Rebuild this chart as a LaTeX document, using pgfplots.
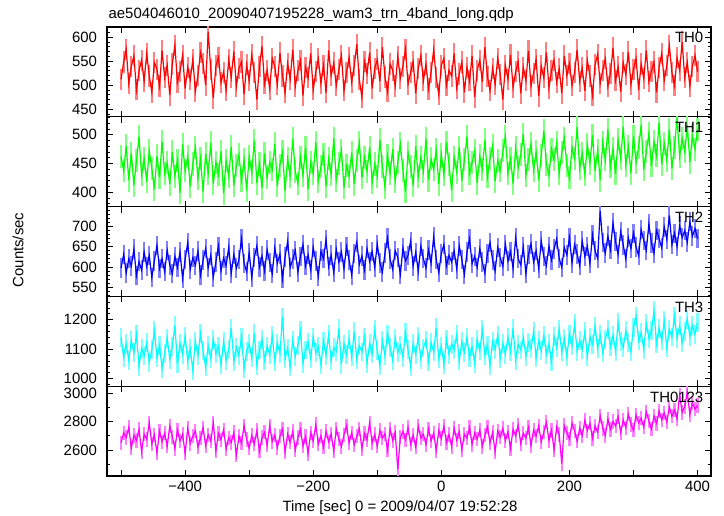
\documentclass[border=0pt]{standalone}
\usepackage{fontspec}
\setmainfont{Liberation Sans}
\usepackage{pgfplots}
\usepackage{pgfplotstable}
\pgfplotsset{compat=1.18}

\definecolor{qred}{rgb}{1,0,0}
\definecolor{qgreen}{rgb}{0,1,0}
\definecolor{qblue}{rgb}{0,0,1}
\definecolor{qcyan}{rgb}{0,1,1}
\definecolor{qmagenta}{rgb}{1,0,1}

\pgfplotstableread{
t a b c d e
-500 512 462 597 1140 2652
-496 548 437 631 1072 2721
-492 575 481 585 1118 2688
-488 503 421 620 1061 2760
-484 539 468 602 1129 2615
-480 561 412 644 1088 2703
-476 490 455 579 1150 2668
-472 530 497 613 1042 2745
-468 552 430 592 1103 2590
-464 508 459 637 1077 2712
-460 566 418 601 1121 2674
-456 519 472 628 1055 2790
-452 485 441 574 1098 2641
-448 547 405 615 1163 2706
-444 533 463 653 1070 2580
-440 498 426 596 1112 2733
-436 572 488 620 1034 2659
-432 515 432 588 1085 2718
-428 541 451 641 1137 2627
-424 479 414 605 1066 2769
-420 544 470 583 1109 2693
-416 583 428 626 1180 2612
-412 506 455 599 1051 2740
-408 528 399 637 1120 2664
-404 562 483 571 1083 2711
-400 493 437 618 1143 2578
-396 537 462 660 1060 2752
-392 511 410 594 1101 2647
-388 554 449 623 1027 2699
-384 487 478 604 1126 2734
-380 520 423 639 1078 2620
-376 568 458 580 1153 2684
-372 545 401 617 1094 2757
-368 500 467 645 1039 2631
-364 611 433 598 1112 2708
-360 532 486 629 1068 2662
-356 473 415 575 1134 2789
-352 540 452 612 1085 2595
-348 558 430 651 1110 2716
-344 505 471 590 1047 2672
-340 527 398 622 1125 2741
-336 489 455 603 1062 2609
-332 553 427 648 1099 2687
-328 516 479 584 1171 2653
-324 570 412 631 1058 2724
-320 497 446 597 1106 2566
-316 535 465 618 1079 2698
-312 548 421 669 1140 2649
-308 481 457 609 1033 2770
-304 542 403 588 1092 2675
-300 509 462 635 1118 2615
-296 563 434 574 1071 2703
-292 526 490 623 1154 2642
-288 470 416 652 1044 2738
-284 539 449 600 1097 2593
-280 581 407 627 1133 2689
-276 503 468 590 1062 2725
-272 531 425 642 1110 2634
-268 492 452 611 1081 2771
-264 556 439 583 1145 2660
-260 538 484 647 1058 2706
-256 501 411 609 1120 2619
-252 567 447 632 1086 2697
-248 519 470 571 1209 2748
-244 484 402 624 1067 2586
-240 545 458 663 1104 2712
-236 512 428 598 1039 2655
-232 574 493 619 1131 2730
-228 497 436 641 1075 2601
-224 530 415 587 1113 2688
-220 551 461 626 1163 2744
-216 478 429 655 1052 2628
-212 537 477 603 1097 2695
-208 515 405 630 1124 2577
-204 566 452 592 1069 2721
-200 490 433 648 1140 2664
-196 528 487 614 1088 2779
-192 555 419 577 1110 2643
-188 503 444 639 1046 2701
-184 541 466 620 1127 2620
-180 484 410 668 1079 2733
-176 572 458 601 1149 2659
-172 520 431 629 1061 2712
-168 546 494 586 1105 2594
-164 499 421 644 1092 2747
-160 533 450 612 1170 2676
-156 562 473 637 1048 2625
-152 488 408 595 1117 2708
-148 527 446 650 1081 2769
-144 557 428 617 1133 2651
-140 506 469 580 1074 2722
-136 540 414 633 1159 2637
-132 585 455 661 1063 2698
-128 511 486 606 1112 2749
-124 475 425 627 1090 2610
-120 549 460 592 1141 2716
-116 524 436 645 1052 2672
-112 568 478 613 1119 2791
-108 493 417 638 1084 2648
-104 535 449 599 1166 2709
-100 553 427 656 1095 2627
-96 508 491 610 1044 2738
-92 579 444 587 1128 2684
-88 517 409 634 1077 2715
-84 486 463 671 1150 2602
-80 544 432 619 1106 2749
-76 531 475 594 1062 2667
-72 498 419 640 1137 2724
-68 560 452 623 1089 2465
-64 514 484 581 1113 2690
-60 539 438 647 1071 2731
-56 575 401 615 1155 2673
-52 502 469 628 1098 2758
-48 526 445 663 1040 2642
-44 549 412 602 1119 2705
-40 483 480 636 1083 2620
-36 535 427 589 1142 2767
-32 562 461 651 1066 2685
-28 509 436 620 1104 2711
-24 544 493 597 1131 2638
-20 492 421 642 1059 2749
-16 527 458 609 1122 2664
-12 573 439 674 1091 2720
-8 516 474 618 1173 2597
-4 480 414 586 1068 2737
0 541 466 633 1110 2681
4 556 430 655 1047 2768
8 500 487 603 1134 2653
12 531 448 629 1082 2709
16 519 403 612 1117 2626
20 566 461 640 1098 2754
24 494 435 595 1151 2671
28 523 478 652 1060 2730
32 548 420 618 1125 2604
36 485 456 581 1089 2712
40 537 497 637 1140 2683
44 509 432 669 1071 2758
48 561 451 608 1109 2640
52 475 472 626 1052 2719
56 530 416 599 1132 2676
60 552 463 645 1094 2741
64 507 440 612 1166 2625
68 579 491 584 1079 2704
72 518 427 633 1113 2762
76 488 459 660 1045 2650
80 535 481 617 1127 2723
84 501 419 590 1100 2589
88 556 455 648 1148 2735
92 522 437 623 1068 2691
96 470 472 601 1119 2752
100 541 496 656 1083 2667
104 512 432 615 1141 2729
108 563 458 638 1092 2612
112 495 415 596 1171 2746
116 528 477 672 1062 2700
120 549 443 620 1116 2775
124 483 465 605 1097 2644
128 537 501 649 1138 2719
132 509 429 583 1075 2683
136 571 456 631 1123 2758
140 498 484 657 1101 2632
144 525 438 612 1160 2741
148 554 470 640 1070 2697
152 477 421 596 1129 2770
156 540 463 664 1094 2658
160 515 507 625 1147 2726
164 568 448 603 1083 2795
168 494 429 651 1118 2667
172 530 475 617 1059 2738
176 552 457 644 1142 2601
180 506 486 669 1105 2763
184 534 432 621 1167 2710
188 483 469 599 1090 2505
192 561 494 648 1136 2772
196 520 446 629 1074 2721
200 545 425 672 1151 2680
204 499 478 610 1112 2789
208 527 459 655 1186 2735
212 573 513 632 1093 2662
216 508 441 603 1128 2754
220 536 468 664 1099 2701
224 488 430 626 1160 2808
228 551 482 651 1075 2736
232 519 450 608 1141 2789
236 479 499 679 1117 2682
240 542 437 640 1178 2770
244 564 473 621 1102 2725
248 503 421 738 1149 2841
252 531 487 660 1087 2752
256 555 456 634 1133 2703
260 497 509 676 1168 2817
264 525 444 643 1108 2744
268 578 476 708 1146 2800
272 510 432 662 1093 2768
276 538 491 631 1189 2836
280 486 458 687 1127 2722
284 547 514 654 1106 2811
288 522 447 620 1162 2757
292 569 480 672 1121 2852
296 501 433 645 1091 2780
300 533 497 683 1174 2739
304 556 452 649 1211 2847
308 490 478 628 1128 2791
312 544 517 692 1155 2823
316 514 439 665 1100 2760
320 572 471 641 1186 2869
324 507 502 706 1137 2802
328 529 446 659 1162 2748
332 548 488 634 1230 2838
336 485 463 690 1118 2787
340 537 521 670 1171 2874
344 566 448 647 1129 2812
348 510 485 699 1196 2860
352 541 455 668 1104 2795
356 582 509 727 1167 2901
360 526 441 655 1141 2837
364 499 478 683 1212 2881
368 557 530 650 1137 2819
372 531 462 702 1179 2985
376 590 494 672 1122 2864
380 515 470 690 1160 2905
384 547 516 661 1201 3005
388 498 452 712 1143 2849
392 539 498 676 1180 2931
396 562 475 695 1151 2886
400 528 509 670 1189 2912
}\datatable

\def\fs{\fontsize{11.2}{13}\selectfont}

\tikzset{lab/.style={anchor=base east, font=\fs, xshift=-2.25pt, yshift=-12pt}}

\pgfplotsset{
  panel/.style={
    scale only axis, width=453pt, height=67.35pt,
    anchor=north west,
    xmin=-522, xmax=421,
    xtick={-500,-400,...,400},
    xticklabels={},
    tick align=inside,
    major tick length=4.5pt, minor tick length=2.5pt,
    axis line style={line width=0.8pt},
    every tick/.style={black, line width=0.5pt},
    tick label style={font=\fs},
    yticklabel style={xshift=-4pt},
    /pgf/number format/assume math mode=true,
    /pgf/number format/1000 sep={},
    scaled y ticks=false,
    clip=true,
  },
  errs/.style 2 args={draw=none, mark=none,
    error bars/.cd, y dir=both, y fixed=#2, error mark=none,
    error bar style={draw=#1!50, line width=1.6pt}},
  main/.style={#1, line width=0.9pt, mark=none},
}

\begin{document}
\begin{tikzpicture}
\useasboundingbox (-80.25pt,20.25pt) rectangle (462.75pt,-366.75pt);

\node[anchor=base west, font=\fs, inner sep=0pt] at (1pt,6pt) {ae504046010\_20090407195228\_wam3\_trn\_4band\_long.qdp};

\begin{axis}[panel, at={(0pt,0pt)}, ymin=434, ymax=621,
  ytick={450,500,550,600}, minor ytick={440,460,...,620,450,470,...,610}]
\addplot[errs={qred}{22}] table[x=t,y=a] {\datatable};
\addplot[main=qred] table[x=t,y=a] {\datatable};
\node[lab] at (rel axis cs:1,1) {TH0};
\end{axis}

\begin{axis}[panel, at={(0pt,-67.35pt)}, ymin=375, ymax=531,
  ytick={400,450,500}, minor ytick={380,390,...,530}]
\addplot[errs={qgreen}{20}] table[x=t,y=b] {\datatable};
\addplot[main=qgreen] table[x=t,y=b] {\datatable};
\node[lab] at (rel axis cs:1,1) {TH1};
\end{axis}

\begin{axis}[panel, at={(0pt,-134.7pt)}, ymin=527, ymax=749,
  ytick={550,600,650,700}, minor ytick={530,540,...,740}]
\addplot[errs={qblue}{24}] table[x=t,y=c] {\datatable};
\addplot[main=qblue] table[x=t,y=c] {\datatable};
\node[lab] at (rel axis cs:1,1) {TH2};
\end{axis}

\begin{axis}[panel, at={(0pt,-202.05pt)}, ymin=974, ymax=1279,
  ytick={1000,1100,1200}, minor ytick={980,1000,...,1260}]
\addplot[errs={qcyan}{32}] table[x=t,y=d] {\datatable};
\addplot[main=qcyan] table[x=t,y=d] {\datatable};
\node[lab] at (rel axis cs:1,1) {TH3};
\end{axis}

\begin{axis}[panel, at={(0pt,-269.4pt)}, ymin=2419, ymax=3047,
  ytick={2600,2800,3000}, minor ytick={2500,2700,2900},
  xticklabels={,−400,,−200,,0,,200,,400}]
\addplot[errs={qmagenta}{50}] table[x=t,y=e] {\datatable};
\addplot[main=qmagenta] table[x=t,y=e] {\datatable};
\node[lab] at (rel axis cs:1,1) {TH0123};
\end{axis}

\node[anchor=base, font=\fs] at (219.75pt,-363pt) {Time [sec] 0 = 2009/04/07 19:52:28};
\node[rotate=90, font=\fs] at (-66.75pt,-167.25pt) {Counts/sec};
\end{tikzpicture}
\end{document}
